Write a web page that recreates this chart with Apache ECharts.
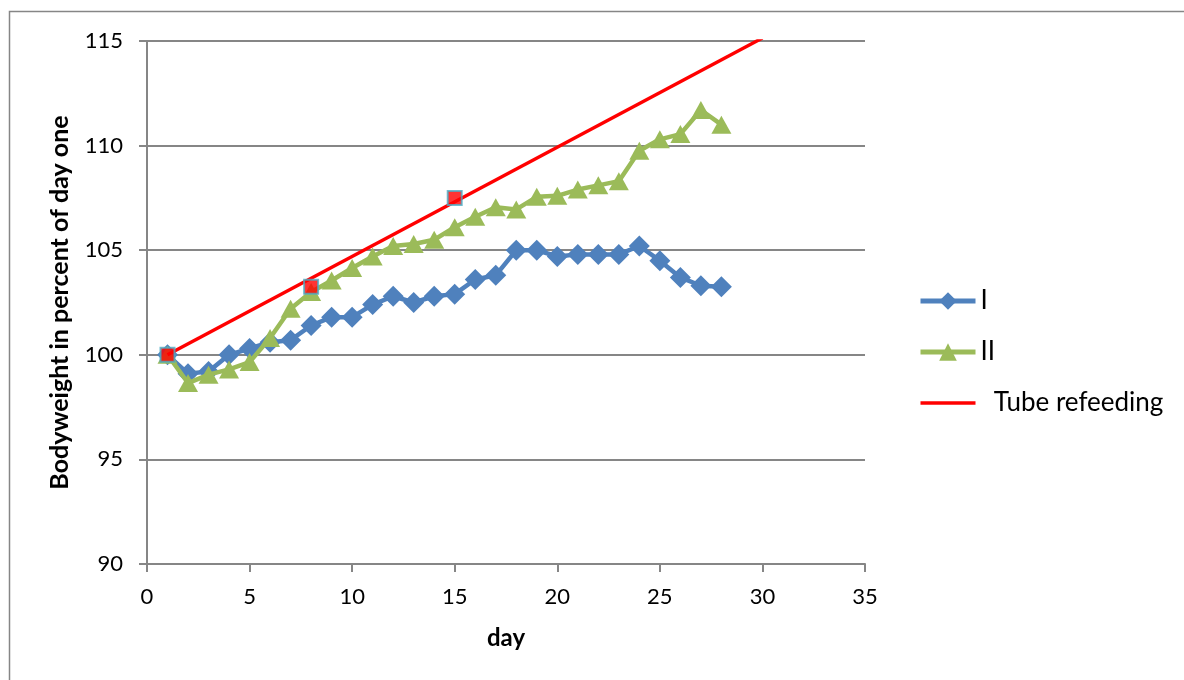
<!DOCTYPE html>
<html>
<head>
<meta charset="utf-8">
<script src="https://cdn.jsdelivr.net/npm/echarts@6/dist/echarts.min.js"></script>
<style>
html,body{margin:0;padding:0;background:#fff;}
#chart{width:1184px;height:680px;}
</style>
</head>
<body>
<div id="chart"></div>
<script>
const days = [1,2,3,4,5,6,7,8,9,10,11,12,13,14,15,16,17,18,19,20,21,22,23,24,25,26,27,28];
const seriesI = [100, 99.1, 99.2, 100.0, 100.3, 100.6, 100.7, 101.4, 101.8, 101.8, 102.4, 102.8, 102.5, 102.8, 102.9, 103.6, 103.8, 105.0, 105.0, 104.7, 104.8, 104.8, 104.8, 105.2, 104.5, 103.7, 103.3, 103.25];
const seriesII = [100, 98.65, 99.05, 99.3, 99.65, 100.8, 102.2, 103.0, 103.55, 104.15, 104.7, 105.2, 105.3, 105.5, 106.1, 106.6, 107.05, 106.95, 107.55, 107.6, 107.9, 108.1, 108.3, 109.75, 110.3, 110.55, 111.7, 111.0];
const refeedDays = [1, 8, 15];
const refeedValues = [100, 103.25, 107.5];
const trendDays = [1, 30];
const trendValues = [100, 115.14];
const xTicks = [0, 5, 10, 15, 20, 25, 30, 35];
const yTicks = [90, 95, 100, 105, 110, 115];

const pairs = (xs, ys) => xs.map((x, i) => [x, ys[i]]);
const FONT = 'Lato, "Open Sans", sans-serif';
const GRAY = '#868686';

const chart = echarts.init(document.getElementById('chart'), null, {renderer: 'canvas'});
chart.setOption({
  animation: false,
  backgroundColor: '#ffffff',
  textStyle: {fontFamily: FONT},
  graphic: [{
    type: 'rect',
    shape: {x: 9.5, y: 11.5, width: 1300, height: 800},
    style: {fill: 'none', stroke: GRAY, lineWidth: 1.5},
    silent: true, z: -10
  }],
  grid: {left: 147, top: 41, right: 319, bottom: 116, containLabel: false},
  legend: {
    orient: 'vertical',
    left: 918, top: 288, padding: 0,
    itemWidth: 55, itemHeight: 22, itemGap: 25,
    data: [
      {name: 'I', lineStyle: {width: 5}},
      {name: 'II', lineStyle: {width: 5}},
      {name: 'Tube refeeding', lineStyle: {width: 3.5}, itemStyle: {opacity: 0}}
    ],
    formatter: n => n === 'Tube refeeding' ? '  ' + n : n,
    textStyle: {fontFamily: FONT, fontSize: 26, color: '#000'}
  },
  xAxis: {
    type: 'value', min: xTicks[0], max: xTicks[xTicks.length - 1], interval: 5,
    name: 'day', nameLocation: 'middle', nameGap: 62,
    nameTextStyle: {fontFamily: FONT, fontSize: 24, fontWeight: 'bold', color: '#000'},
    axisLine: {show: true, lineStyle: {color: GRAY, width: 2}},
    axisTick: {show: true, length: 8, lineStyle: {color: GRAY, width: 2}},
    axisLabel: {fontFamily: FONT, fontSize: 22, color: '#000', margin: 22},
    splitLine: {show: false}
  },
  yAxis: {
    type: 'value', min: yTicks[0], max: yTicks[yTicks.length - 1], interval: 5,
    name: 'Bodyweight in percent of day one', nameLocation: 'middle', nameGap: 75, nameRotate: 90,
    nameTextStyle: {fontFamily: FONT, fontSize: 25, fontWeight: 'bold', color: '#000'},
    axisLine: {show: true, lineStyle: {color: GRAY, width: 2}},
    axisTick: {show: true, length: 8, lineStyle: {color: GRAY, width: 2}},
    axisLabel: {fontFamily: FONT, fontSize: 22, color: '#000', margin: 24},
    splitLine: {show: true, lineStyle: {color: GRAY, width: 2}}
  },
  series: [
    {
      name: 'I', type: 'line', data: pairs(days, seriesI),
      symbol: 'diamond', symbolSize: [21, 21], showAllSymbol: true,
      lineStyle: {color: '#4F81BD', width: 4.5},
      itemStyle: {color: '#4F81BD'}, z: 2
    },
    {
      name: 'II', type: 'line', data: pairs(days, seriesII),
      symbol: 'triangle', symbolSize: [20, 18], showAllSymbol: true,
      lineStyle: {color: '#9BBB59', width: 4.5},
      itemStyle: {color: '#9BBB59'}, z: 3
    },
    {
      name: 'Tube refeeding', type: 'line', data: pairs(trendDays, trendValues),
      symbol: 'none', showSymbol: false, clip: true,
      lineStyle: {color: '#FF0000', width: 3.5},
      itemStyle: {color: '#FF0000'}, z: 4
    },
    {
      name: 'refeed points', type: 'scatter', data: pairs(refeedDays, refeedValues),
      symbol: 'rect', symbolSize: 14,
      itemStyle: {color: '#FF0000', borderColor: '#4BACC6', borderWidth: 2}, z: 5
    }
  ]
});
</script>
</body>
</html>
